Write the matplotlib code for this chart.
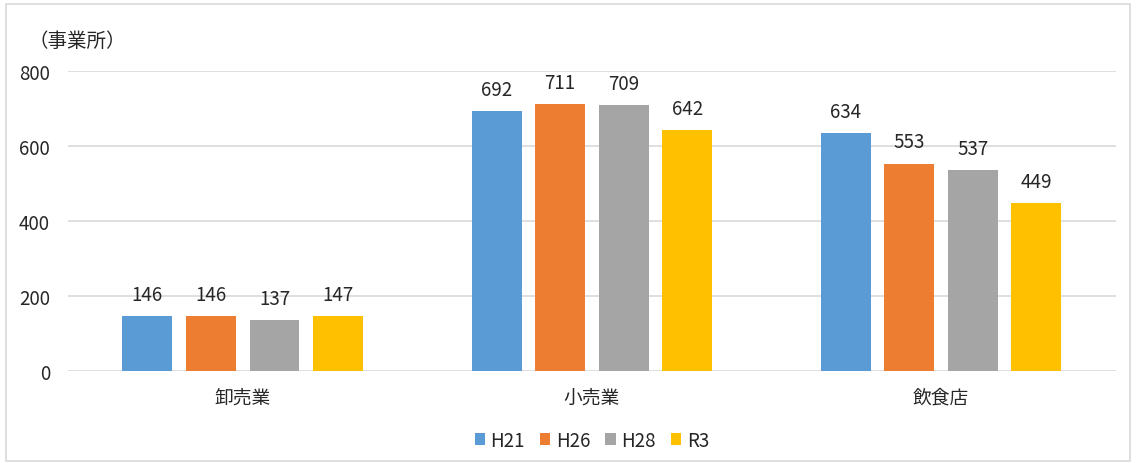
import matplotlib.pyplot as plt
import numpy as np
from matplotlib.patches import Rectangle

plt.rcParams['font.family'] = ['Noto Sans CJK JP', 'DejaVu Sans']

categories = ['卸売業', '小売業', '飲食店']
series_names = ['H21', 'H26', 'H28', 'R3']
h21 = [146, 692, 634]
h26 = [146, 711, 553]
h28 = [137, 709, 537]
r3 = [147, 642, 449]
colors = ['#5B9BD5', '#ED7D31', '#A5A5A5', '#FFC000']

values = [h21, h26, h28, r3]

fig = plt.figure(figsize=(11.36, 4.64), dpi=100)
ax = fig.add_axes([0.060, 0.198, 0.922, 0.647])

x = np.arange(len(categories))
pitch = 0.182
width = 0.143
for i, (name, vals) in enumerate(zip(series_names, values)):
    pos = x + (i - 1.5) * pitch
    bars = ax.bar(pos, vals, width, color=colors[i], label=name, zorder=3)
    for b, v in zip(bars, vals):
        ax.annotate(str(v), (b.get_x() + b.get_width() / 2, v),
                    xytext=(0, 8), textcoords='offset points',
                    ha='center', va='bottom', fontsize=13.5, color='#262626')

ax.set_xlim(-0.5, 2.5)
ax.set_ylim(0, 800)
ax.set_yticks([0, 200, 400, 600, 800])
ax.yaxis.grid(True, color='#D9D9D9', linewidth=1.2, zorder=0)
ax.set_xticks(x)
ax.set_xticklabels(categories)
ax.tick_params(axis='both', length=0, labelsize=13.5, labelcolor='#262626')
ax.tick_params(axis='y', pad=13)
ax.tick_params(axis='x', pad=11)
for s in ax.spines.values():
    s.set_visible(False)

fig.text(0.025, 0.91, '（事業所）', fontsize=14, color='#262626', va='center')

ax.legend(loc='center', bbox_to_anchor=(0.5, -0.23), ncol=4, frameon=False,
          fontsize=13.5, handlelength=0.55, handleheight=0.55, handletextpad=0.3,
          columnspacing=0.8, labelcolor='#262626')

fig.patches.append(Rectangle((0.005, 0.005), 0.99, 0.985, transform=fig.transFigure,
                             fill=False, edgecolor='#D9D9D9', linewidth=1.2))

fig.savefig('out.png', dpi=100, facecolor='white')
